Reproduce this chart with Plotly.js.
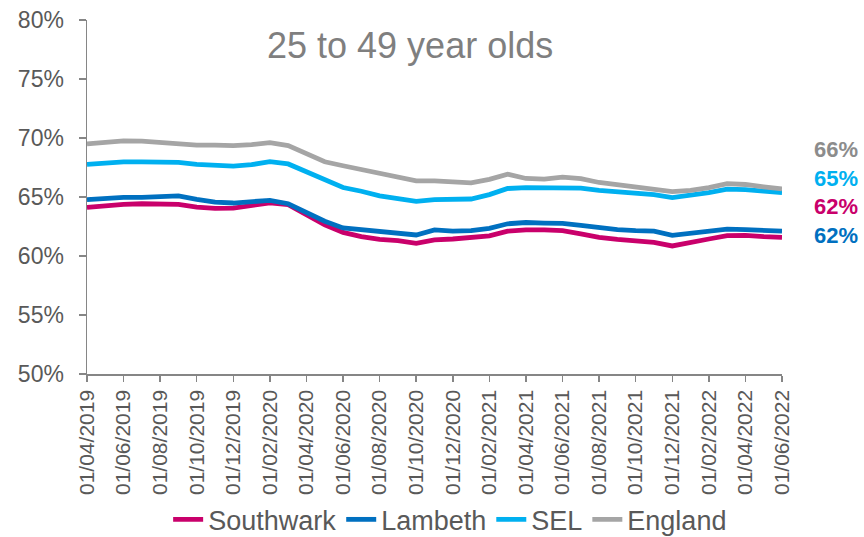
<!DOCTYPE html>
<html>
<head>
<meta charset="utf-8">
<script src="https://cdn.plot.ly/plotly-3.0.1.min.js"></script>
<style>html,body{margin:0;padding:0;background:#fff;}#chart{width:864px;height:537px;}</style>
</head>
<body>
<div id="chart"></div>
<script>
var dates = ["01/04/2019","01/05/2019","01/06/2019","01/07/2019","01/08/2019","01/09/2019","01/10/2019","01/11/2019","01/12/2019","01/01/2020","01/02/2020","01/03/2020","01/04/2020","01/05/2020","01/06/2020","01/07/2020","01/08/2020","01/09/2020","01/10/2020","01/11/2020","01/12/2020","01/01/2021","01/02/2021","01/03/2021","01/04/2021","01/05/2021","01/06/2021","01/07/2021","01/08/2021","01/09/2021","01/10/2021","01/11/2021","01/12/2021","01/01/2022","01/02/2022","01/03/2022","01/04/2022","01/05/2022","01/06/2022"];

var southwark = [64.12,64.26,64.37,64.43,64.43,64.37,64.15,64.03,64.06,64.29,64.5,64.35,63.52,62.64,62.0,61.64,61.41,61.3,61.07,61.36,61.44,61.53,61.7,62.1,62.21,62.21,62.15,61.87,61.58,61.41,61.3,61.15,60.85,61.1,61.44,61.73,61.75,61.64,61.58];
var lambeth = [64.78,64.89,64.97,64.97,65.03,65.1,64.8,64.57,64.49,64.57,64.72,64.43,63.72,62.95,62.38,62.21,62.1,61.95,61.78,62.21,62.1,62.15,62.35,62.73,62.84,62.79,62.76,62.6,62.38,62.24,62.15,62.1,61.75,61.92,62.15,62.27,62.24,62.21,62.1];
var sel = [67.77,67.88,67.97,67.97,67.97,67.93,67.77,67.65,67.62,67.74,67.99,67.8,67.14,66.37,65.8,65.49,65.1,64.86,64.63,64.78,64.78,64.83,65.2,65.72,65.8,65.78,65.86,65.75,65.57,65.43,65.34,65.2,64.95,65.12,65.38,65.66,65.63,65.49,65.38];
var england = [69.5,69.65,69.76,69.73,69.6,69.5,69.4,69.4,69.36,69.44,69.6,69.36,68.65,67.99,67.65,67.34,67.08,66.71,66.37,66.37,66.26,66.2,66.5,66.94,66.57,66.52,66.68,66.55,66.23,66.03,65.86,65.72,65.46,65.57,65.8,66.14,66.06,65.86,65.69];

var seriesNames = ["Southwark","Lambeth","SEL","England"];
var seriesData = [southwark, lambeth, sel, england];
var colors = ["#C9006B","#0070C0","#00B0F0","#A5A5A5"];
var labelColors = ["#C9006B","#0070C0","#00B0F0","#8C8C8C"];

var tickLabels = dates.filter(function(d, i){ return i % 2 === 0; });
var yTicks = [50,55,60,65,70,75,80];

var FONT = 'Liberation Sans, Arial, sans-serif';

var traces = seriesNames.map(function(n, k){
  return {
    x: dates,
    y: seriesData[k],
    type: 'scatter',
    mode: 'lines',
    name: n,
    line: {color: colors[k], width: 4.8},
    hoverinfo: 'skip'
  };
});

// end labels, ordered top to bottom as in reference: England, SEL, Southwark, Lambeth
var labelOrder = [3, 2, 0, 1];
var labelY = [0.633, 0.551, 0.472, 0.390];
var annotations = labelOrder.map(function(k, j){
  var arr = seriesData[k];
  return {
    xref: 'paper', yref: 'paper',
    x: 1.112, y: labelY[j],
    xanchor: 'right', yanchor: 'middle',
    text: '<b>' + Math.round(arr[arr.length - 1]) + '%</b>',
    showarrow: false,
    font: {family: FONT, size: 22, color: labelColors[k]}
  };
});
annotations.push({
  xref: 'paper', yref: 'paper',
  x: 0.465, y: 0.929,
  xanchor: 'center', yanchor: 'middle',
  text: '25 to 49 year olds',
  showarrow: false,
  font: {family: FONT, size: 36, color: '#7F7F7F'}
});

var layout = {
  width: 864, height: 537,
  margin: {l: 87, r: 82, t: 20, b: 163, pad: 0},
  paper_bgcolor: '#fff', plot_bgcolor: '#fff',
  showlegend: true,
  font: {family: FONT, color: '#595959'},
  xaxis: {
    type: 'category',
    automargin: false,
    range: [0, dates.length - 1],
    tickmode: 'array',
    tickvals: tickLabels,
    ticktext: tickLabels,
    tickangle: -90,
    ticks: 'outside', ticklen: 6, tickcolor: '#868686', tickwidth: 1.5,
    showline: true, linecolor: '#868686', linewidth: 1.5,
    showgrid: false, zeroline: false,
    tickfont: {family: FONT, size: 21, color: '#595959'}
  },
  yaxis: {
    automargin: false,
    range: [50, 80],
    tickmode: 'array',
    tickvals: yTicks,
    ticktext: yTicks.map(function(v){ return v + '%'; }),
    ticks: 'outside', ticklen: 7, tickcolor: '#868686', tickwidth: 1.5,
    ticklabelstandoff: 10,
    showline: true, linecolor: '#868686', linewidth: 1.5,
    showgrid: false, zeroline: false,
    tickfont: {family: FONT, size: 23, color: '#595959'}
  },
  legend: {
    orientation: 'h',
    xref: 'container', yref: 'container',
    x: 0.521, xanchor: 'center',
    y: 0.032, yanchor: 'middle',
    font: {family: FONT, size: 27, color: '#595959'},
    itemwidth: 30,
    tracegroupgap: 0
  },
  annotations: annotations
};

Plotly.newPlot('chart', traces, layout, {displayModeBar: false, staticPlot: true});
</script>
</body>
</html>
